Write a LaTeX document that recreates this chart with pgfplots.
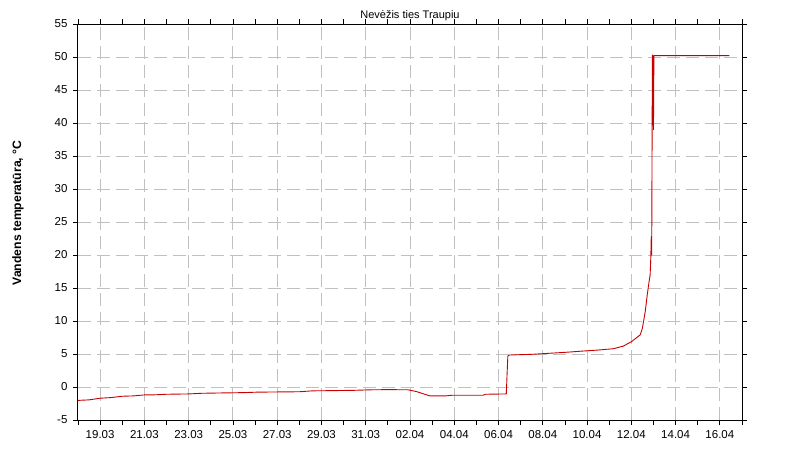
\documentclass[border=0pt]{standalone}
\usepackage{pgfplots}
\pgfplotsset{compat=1.18}
\usepackage{fontspec}
\setmainfont{Liberation Sans}
\definecolor{gridgray}{RGB}{192,192,192}
\definecolor{linered}{RGB}{200,0,0}
\begin{document}
\begin{tikzpicture}[x=1pt,y=1pt]
\path[use as bounding box] (-78,-30) rectangle (722,420);
\begin{axis}[
  at={(0,0)}, anchor=south west,
  scale only axis, width=664pt, height=396pt,
  xmin=0, xmax=30, ymin=-5, ymax=55,
  xtick={1,3,...,29},
  xticklabels={19.03,21.03,23.03,25.03,27.03,29.03,31.03,02.04,04.04,06.04,08.04,10.04,12.04,14.04,16.04},
  minor xtick={0,1,...,30},
  ytick={-5,0,...,55},
  tick align=outside,
  major tick length=5pt, minor tick length=5pt,
  tick style={black, line width=0.8pt},
  axis line style={black, line width=1pt},
  grid=major,
  major grid style={gridgray, line width=0.9pt, dash pattern=on 13pt off 6pt},
  ticklabel style={font=\fontsize{11.5}{13}\selectfont},
  /pgf/number format/assume math mode=true,
  xticklabel style={yshift=-2pt},
  yticklabel style={xshift=-2pt},
  title={Nevėžis ties Traupiu},
  title style={font=\fontsize{11}{13}\selectfont, yshift=-6pt},
  ylabel={\bfseries Vandens temperatūra, °C},
  ylabel style={font=\fontsize{12.2}{14}\selectfont, at={(axis description cs:0,0.5)}, anchor=center, yshift=60pt, xshift=9pt},
]
\addplot[linered, line width=0.9pt, line join=round] coordinates {
(0.0,-2.03) (0.5,-1.95) (1.0,-1.70) (1.5,-1.60) (2.0,-1.40) (2.5,-1.35)
(3.0,-1.20) (3.5,-1.18) (4.0,-1.10) (5.0,-1.05) (5.6,-0.95) (6.5,-0.90)
(7.5,-0.85) (8.1,-0.78) (9.0,-0.75) (10.0,-0.72) (10.6,-0.58) (11.5,-0.55)
(12.5,-0.50) (13.3,-0.42) (14.0,-0.40) (14.9,-0.42) (15.3,-0.70) (15.9,-1.35)
(16.6,-1.35) (16.9,-1.25) (18.3,-1.25) (18.4,-1.10) (19.35,-1.05) (19.42,4.7)
(19.5,4.85) (20.5,4.95) (21.25,5.1) (22.0,5.25) (22.83,5.45) (23.5,5.6)
(24.19,5.8) (24.64,6.2) (25.02,6.9) (25.4,7.9) (25.5,8.9) (25.63,11.5)
(25.72,14.0) (25.79,15.7) (25.85,17.0) (25.88,19.7) (25.90,22.8) (25.92,20.0)
(25.95,50.3) (25.98,50.2) (26.0,39.0) (26.02,50.2) (29.43,50.2)
};
\end{axis}
\end{tikzpicture}
\end{document}
